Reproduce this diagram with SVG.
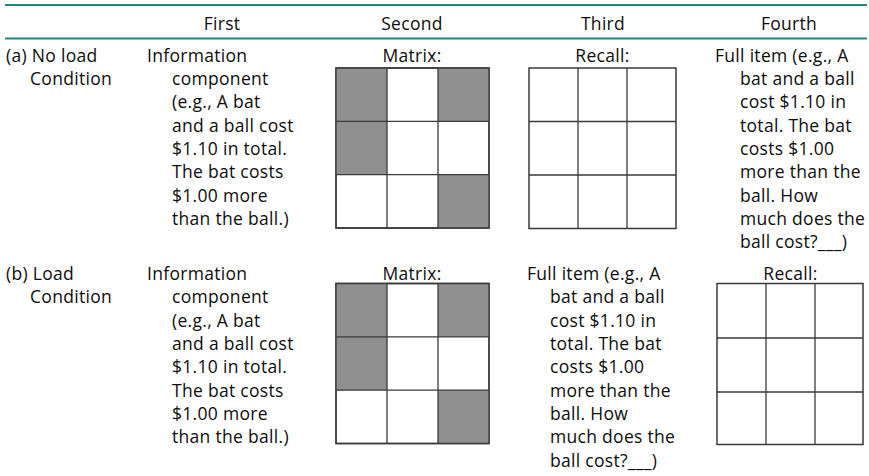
<svg xmlns="http://www.w3.org/2000/svg" width="869" height="476" viewBox="0 0 869 476">
<style>
text{font-family:"Open Sans","Noto Sans",sans-serif;font-size:17.5px;fill:#0d0d0d;letter-spacing:0.3px}
.c{text-anchor:middle}
.rule{stroke:#1b8a80;stroke-width:2.2}
.g{fill:#fff;stroke:#3a3a3a;stroke-width:1.5}
.s{fill:#8f8f8f}
.gl{stroke:#3a3a3a;stroke-width:1.3;fill:none}
</style>
<rect width="869" height="476" fill="#fff"/>
<g id="rules">
<line class="rule" x1="5" y1="5" x2="867" y2="5"/>
<line class="rule" x1="5" y1="38.5" x2="867" y2="38.5"/>
</g>
<g id="header">
<text class="c" x="222" y="29.5">First</text>
<text class="c" x="412" y="29.5">Second</text>
<text class="c" x="603" y="29.5">Third</text>
<text class="c" x="789" y="29.5">Fourth</text>
</g>
<g id="row-a-label">
<text x="6" y="61.7">(a) No load<tspan x="30" dy="23.33">Condition</tspan></text>
</g>
<g id="row-a-first">
<text x="147" y="61.7">Information<tspan x="172" dy="23.33">component</tspan><tspan x="172" dy="23.33">(e.g., A bat</tspan><tspan x="172" dy="23.33">and a ball cost</tspan><tspan x="172" dy="23.33">$1.10 in total.</tspan><tspan x="172" dy="23.33">The bat costs</tspan><tspan x="172" dy="23.33">$1.00 more</tspan><tspan x="172" dy="23.33">than the ball.)</tspan></text>
</g>
<g id="row-a-matrix">
<text class="c" x="412" y="61.7">Matrix:</text>
<rect class="g" x="336" y="68" width="153" height="160"/>
<rect class="s" x="336" y="68" width="51" height="53.33"/>
<rect class="s" x="438" y="68" width="51" height="53.33"/>
<rect class="s" x="336" y="121.33" width="51" height="53.33"/>
<rect class="s" x="438" y="174.67" width="51" height="53.33"/>
<path class="gl" d="M336 68H489V228H336ZM387 68V228M438 68V228M336 121.33H489M336 174.67H489"/>
</g>
<g id="row-a-recall">
<text class="c" x="602.5" y="61.7">Recall:</text>
<rect class="g" x="529" y="68" width="147" height="160.5"/>
<path class="gl" d="M578 68V228.5M627 68V228.5M529 121.5H676M529 175H676"/>
</g>
<g id="row-a-fourth">
<text x="715" y="61.7">Full item (e.g., A<tspan x="740" dy="23.33">bat and a ball</tspan><tspan x="740" dy="23.33">cost $1.10 in</tspan><tspan x="740" dy="23.33">total. The bat</tspan><tspan x="740" dy="23.33">costs $1.00</tspan><tspan x="740" dy="23.33">more than the</tspan><tspan x="740" dy="23.33">ball. How</tspan><tspan x="740" dy="23.33">much does the</tspan><tspan x="740" dy="23.33">ball cost?___)</tspan></text>
</g>
<g id="row-b-label">
<text x="6" y="280">(b) Load<tspan x="30" dy="23.33">Condition</tspan></text>
</g>
<g id="row-b-first">
<text x="147" y="280">Information<tspan x="172" dy="23.33">component</tspan><tspan x="172" dy="23.33">(e.g., A bat</tspan><tspan x="172" dy="23.33">and a ball cost</tspan><tspan x="172" dy="23.33">$1.10 in total.</tspan><tspan x="172" dy="23.33">The bat costs</tspan><tspan x="172" dy="23.33">$1.00 more</tspan><tspan x="172" dy="23.33">than the ball.)</tspan></text>
</g>
<g id="row-b-matrix">
<text class="c" x="412" y="280">Matrix:</text>
<rect class="g" x="336" y="283.5" width="153" height="160"/>
<rect class="s" x="336" y="283.5" width="51" height="53.33"/>
<rect class="s" x="438" y="283.5" width="51" height="53.33"/>
<rect class="s" x="336" y="336.83" width="51" height="53.33"/>
<rect class="s" x="438" y="390.17" width="51" height="53.33"/>
<path class="gl" d="M336 283.5H489V443.5H336ZM387 283.5V443.5M438 283.5V443.5M336 336.83H489M336 390.17H489"/>
</g>
<g id="row-b-third">
<text x="527" y="280">Full item (e.g., A<tspan x="550" dy="23.33">bat and a ball</tspan><tspan x="550" dy="23.33">cost $1.10 in</tspan><tspan x="550" dy="23.33">total. The bat</tspan><tspan x="550" dy="23.33">costs $1.00</tspan><tspan x="550" dy="23.33">more than the</tspan><tspan x="550" dy="23.33">ball. How</tspan><tspan x="550" dy="23.33">much does the</tspan><tspan x="550" dy="23.33">ball cost?___)</tspan></text>
</g>
<g id="row-b-recall">
<text class="c" x="790.5" y="280">Recall:</text>
<rect class="g" x="717" y="283.5" width="146" height="161"/>
<path class="gl" d="M766 283.5V444.5M815 283.5V444.5M717 338H863M717 392H863"/>
</g>
</svg>
